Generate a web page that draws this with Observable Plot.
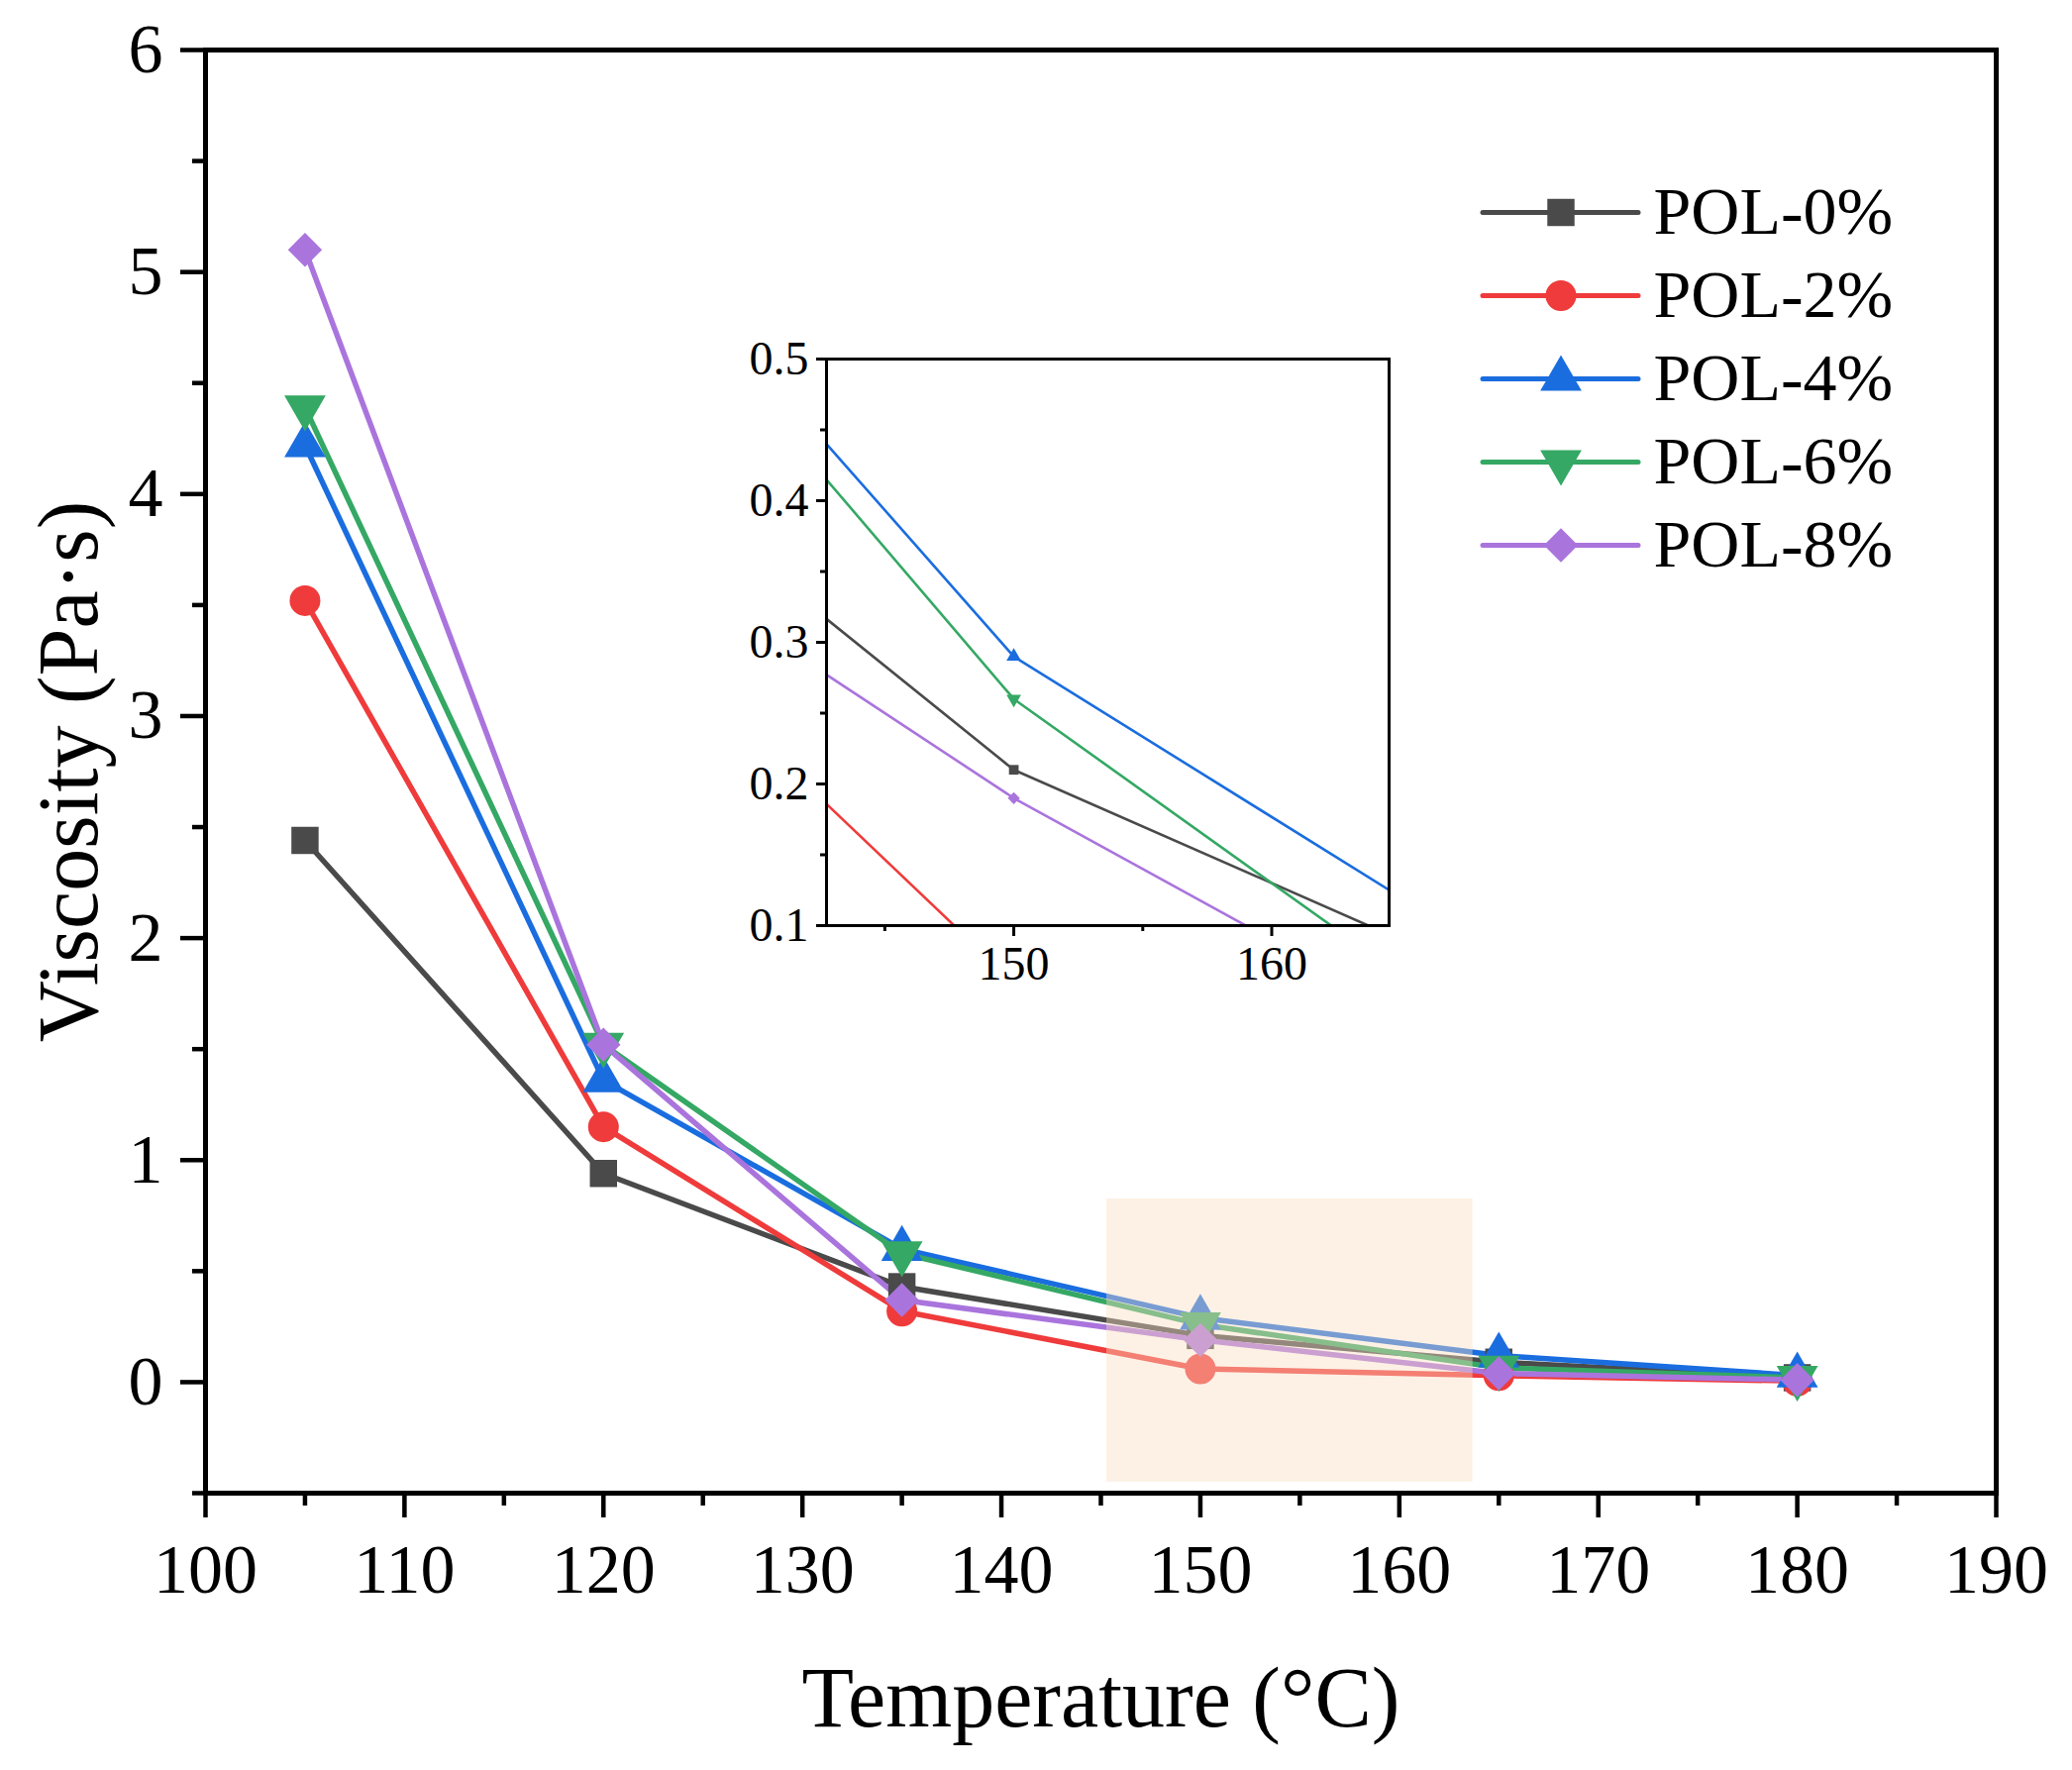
<!DOCTYPE html>
<html><head><meta charset="utf-8">
<script src="https://cdn.jsdelivr.net/npm/d3@7"></script>
<script src="https://cdn.jsdelivr.net/npm/@observablehq/plot@0.6"></script>
<style>
html,body{margin:0;padding:0;background:#fff;}
#wrap{position:relative;width:2092px;height:1787px;overflow:hidden;}
#wrap svg{position:absolute;max-width:none;}
</style></head><body><div id="wrap"></div>
<script>
// ---------- data ----------
const temperatures = [105, 120, 135, 150, 165, 180];
const seriesNames = ["POL-0%", "POL-2%", "POL-4%", "POL-6%", "POL-8%"];
const pol0 = [2.44, 0.94, 0.43, 0.21, 0.09, 0.02];
const pol2 = [3.52, 1.15, 0.32, 0.06, 0.03, 0.005];
const pol4 = [4.22, 1.36, 0.60, 0.29, 0.12, 0.03];
const pol6 = [4.39, 1.52, 0.58, 0.26, 0.065, 0.02];
const pol8 = [5.10, 1.52, 0.37, 0.19, 0.04, 0.01];
const seriesColors = ["#4a4a4a", "#ef3b3b", "#1a6ddf", "#34a864", "#aa74dd"];

const xMajorTicks = [100, 110, 120, 130, 140, 150, 160, 170, 180, 190];
const xMinorTicks = [105, 115, 125, 135, 145, 155, 165, 175, 185];
const yMajorTicks = [0, 1, 2, 3, 4, 5, 6];
const yMinorTicks = [-0.5, 0.5, 1.5, 2.5, 3.5, 4.5, 5.5];

const highlightX = [145.3, 163.7];
const highlightY = [-0.45, 0.825];

const insetXDomain = [142.74, 164.55];
const insetYDomain = [0.1, 0.5];
const insetXMajor = [150, 160];
const insetXMinor = [145, 155];
const insetYMajor = [0.1, 0.2, 0.3, 0.4, 0.5];
const insetYMinor = [0.15, 0.25, 0.35, 0.45];

const xLabel = "Temperature (°C)";
const yLabel = "Viscosity (Pa·s)";

// ---------- table ----------
const seriesValues = [pol0, pol2, pol4, pol6, pol8];
const data = seriesNames.flatMap((name, i) =>
  temperatures.map((t, j) => ({name, t, v: seriesValues[i][j]})));

const triangleDown = {
  draw(context, size) {
    const y = -Math.sqrt(size / (Math.sqrt(3) * 3));
    context.moveTo(0, -y * 2);
    context.lineTo(-Math.sqrt(3) * y, y);
    context.lineTo(Math.sqrt(3) * y, y);
    context.closePath();
  }
};
const symbols = ["square", "circle", "triangle", triangleDown, "diamond2"];
const FONT = '"Liberation Serif", "Times New Roman", serif';
const baseStyle = {fontFamily: FONT, background: "transparent", maxWidth: "none", overflow: "visible", color: "black"};

const wrap = document.getElementById("wrap");

// ---------- main chart ----------
const main = Plot.plot({
  width: 2092, height: 1787,
  marginLeft: 207, marginRight: 77, marginTop: 50, marginBottom: 280,
  style: baseStyle,
  x: {domain: [100, 190]},
  y: {domain: [-0.5, 6]},
  color: {domain: seriesNames, range: seriesColors},
  symbol: {domain: seriesNames, range: symbols},
  marks: [
    Plot.axisX({ticks: xMajorTicks, tickSize: 25, tickPadding: 26, fontSize: 70, strokeWidth: 4.5, label: null, tickFormat: d => String(d)}),
    Plot.axisX({ticks: xMinorTicks, tickSize: 13, strokeWidth: 4.5, text: null, label: null}),
    Plot.axisY({ticks: yMajorTicks, tickSize: 25, tickPadding: 18, fontSize: 70, strokeWidth: 4.5, label: null, tickFormat: d => String(d)}),
    Plot.axisY({ticks: yMinorTicks, tickSize: 13, strokeWidth: 4.5, text: null, label: null}),
    Plot.line(data, {x: "t", y: "v", z: "name", stroke: "name", strokeWidth: 5.5}),
    Plot.dot(data, {x: "t", y: "v", symbol: "name", fill: "name", r: 15.5}),
    Plot.rect([{x1: highlightX[0], x2: highlightX[1], y1: highlightY[0], y2: highlightY[1]}],
      {x1: "x1", x2: "x2", y1: "y1", y2: "y2", fill: "#fadec1", fillOpacity: 0.42}),
    Plot.frame({stroke: "black", strokeWidth: 5}),
    Plot.text([yLabel], {text: d => d, frameAnchor: "left", dx: -110, rotate: -90, lineAnchor: "bottom", textAnchor: "middle", fontSize: 86}),
    Plot.text([xLabel], {text: d => d, frameAnchor: "bottom", dy: 235, lineAnchor: "bottom", textAnchor: "middle", fontSize: 86})
  ]
});
main.style.left = "0px"; main.style.top = "0px";
wrap.appendChild(main);

// ---------- inset ----------
const insetML = 110, insetMT = 30, insetMR = 30, insetMB = 90;
const inset = Plot.plot({
  width: insetML + 568 + insetMR, height: insetMT + 572 + insetMB,
  marginLeft: insetML, marginTop: insetMT, marginRight: insetMR, marginBottom: insetMB,
  style: baseStyle,
  x: {domain: insetXDomain},
  y: {domain: insetYDomain},
  color: {domain: seriesNames, range: seriesColors},
  symbol: {domain: seriesNames, range: symbols},
  marks: [
    Plot.frame({fill: "white", stroke: "none"}),
    Plot.axisX({ticks: insetXMajor, tickSize: 11, tickPadding: 9, fontSize: 48, strokeWidth: 3, label: null, tickFormat: d => String(d)}),
    Plot.axisX({ticks: insetXMinor, tickSize: 6, strokeWidth: 3, text: null, label: null}),
    Plot.axisY({ticks: insetYMajor, tickSize: 10, tickPadding: 8, fontSize: 48, strokeWidth: 3, label: null, tickFormat: d => d.toFixed(1)}),
    Plot.axisY({ticks: insetYMinor, tickSize: 6, strokeWidth: 3, text: null, label: null}),
    Plot.line(data, {x: "t", y: "v", z: "name", stroke: "name", strokeWidth: 2.6, clip: true}),
    Plot.dot(data, {x: "t", y: "v", symbol: "name", fill: "name", r: 5.5, clip: true}),
    Plot.frame({stroke: "black", strokeWidth: 3})
  ]
});
inset.style.left = (834 - insetML) + "px"; inset.style.top = (362 - insetMT) + "px";
wrap.appendChild(inset);

// ---------- legend ----------
const legMT = 40, legMB = 40, legMR = 300;
const legend = Plot.plot({
  width: 157 + legMR, height: legMT + 337 + legMB,
  marginLeft: 0, marginRight: legMR, marginTop: legMT, marginBottom: legMB,
  style: baseStyle,
  x: {axis: null, domain: [0, 1]},
  y: {axis: null, type: "point", domain: seriesNames, padding: 0},
  color: {domain: seriesNames, range: seriesColors},
  symbol: {domain: seriesNames, range: symbols},
  marks: [
    Plot.ruleY(seriesNames, {y: d => d, stroke: d => d, strokeWidth: 5, strokeLinecap: "round"}),
    Plot.dot(seriesNames, {y: d => d, frameAnchor: "middle", symbol: d => d, fill: d => d, r: 15.5}),
    Plot.text(seriesNames, {y: d => d, text: d => d, frameAnchor: "right", dx: 15, textAnchor: "start", lineAnchor: "middle", fontSize: 68, fill: "black"})
  ]
});
legend.style.left = "1497px"; legend.style.top = (213 - legMT) + "px";
wrap.appendChild(legend);
</script>
</body></html>
